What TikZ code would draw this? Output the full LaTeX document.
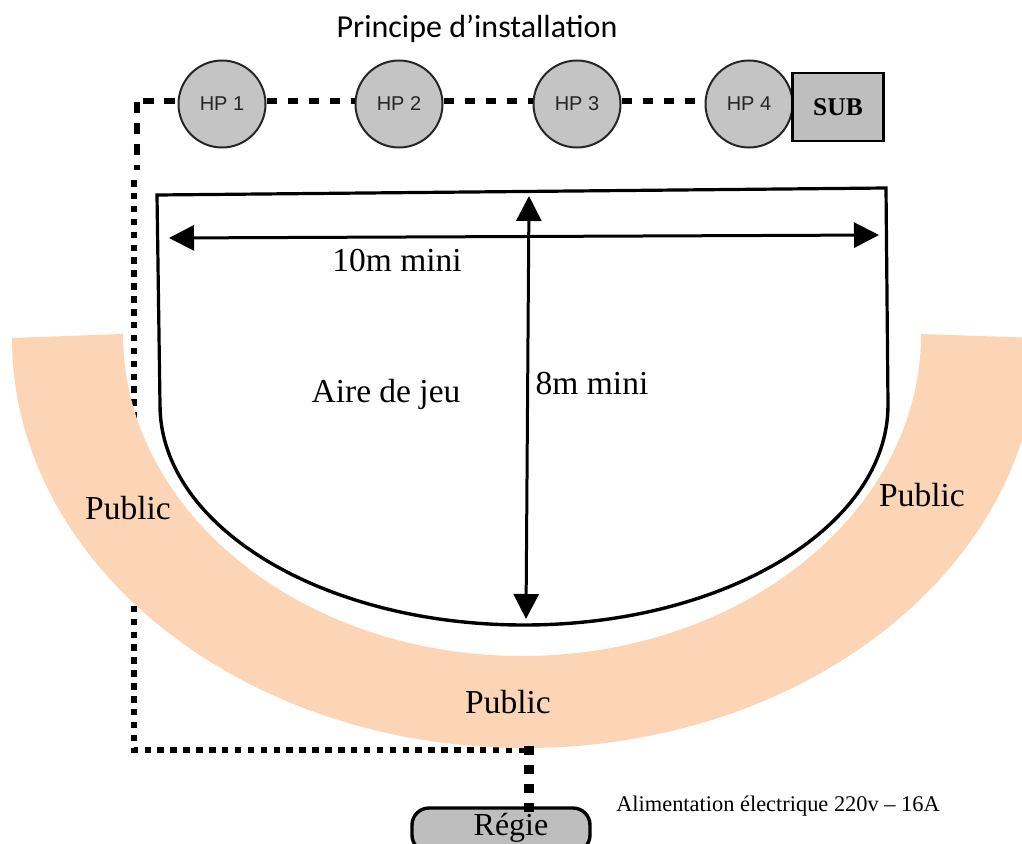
\documentclass[tikz,border=0pt]{standalone}
\usepackage{fontspec}
\setmainfont{Liberation Serif}
\newfontfamily\hpfont{Liberation Sans}
\newfontfamily\calfont{Carlito}
\usetikzlibrary{arrows.meta}
\definecolor{band}{HTML}{FBD5B5}
\definecolor{hpfill}{HTML}{C4C4C4}
\definecolor{boxfill}{HTML}{BEBEBE}
\tikzset{
  x=1pt,y=-1pt,
  hp/.style={circle,draw=black!85,fill=hpfill,line width=2pt,minimum size=87pt,inner sep=0pt,font=\hpfont\fontsize{20}{20}\selectfont,text=black!85},
  dashline/.style={line width=5.5pt,dash pattern=on 10.5pt off 10.5pt},
  dotline/.style={line width=6pt,dash pattern=on 6.5pt off 6.4pt},
  regieline/.style={line width=9.5pt,dash pattern=on 9pt off 10pt},
  stage/.style={line width=3.2pt,draw=black},
  dimline/.style={line width=3pt,{Triangle[length=25pt,width=25pt]}-{Triangle[length=25pt,width=25pt]}},
  lab/.style={inner sep=0pt,font=\fontsize{33.5}{33.5}\selectfont,text=black},
}
\begin{document}
\begin{tikzpicture}
\useasboundingbox (0,0) rectangle (1022,843);
\clip (0,0) rectangle (1022,843);
% cables (underneath the band)
\coordinate (c0) at (143,101);
\coordinate (c1) at (137,102);
\coordinate (c1b) at (137,170);
\coordinate (c2) at (134,180);
\coordinate (c3) at (134,750);
\coordinate (c4) at (529,750);
\coordinate (c5) at (529,746);
\draw[dotline] (c2) -- (c3) -- (c4);
% audience band
\fill[band] (12,338) arc[start angle=180,end angle=0,x radius=513,y radius=410]
  -- (921,334) arc[start angle=0,end angle=180,x radius=399,y radius=322] -- cycle;
% speakers
\node[hp] (hp1) at (222,104) {HP 1};
\node[hp] (hp2) at (399,104) {HP 2};
\node[hp] (hp3) at (577,104) {HP 3};
\node[hp] (hp4) at (749,104) {HP 4};
\node[draw=black,fill=boxfill,line width=2.4pt,minimum width=91pt,minimum height=68pt,inner sep=0pt,font=\bfseries\fontsize{25.5}{25.5}\selectfont] (sub) at (838,107) {SUB};
\draw[dashline] (c0) -- (c0 -| hp1.west);
\draw[dashline] (c1) -- (c1b);
\draw[dashline] (hp1.east |- c0) -- (hp2.west |- c0);
\draw[dashline] (hp2.east |- c0) -- (hp3.west |- c0);
\draw[dashline] (hp3.east |- c0) -- (hp4.west |- c0);
% stage
\coordinate (s1) at (160,405);
\coordinate (s2) at (888,405);
\draw[stage,line join=miter] (s1) -- (157,195) -- (886,188) -- (s2);
\draw[line width=3.4pt] (s1) arc[start angle=180,end angle=0,x radius=364,y radius=220];
% dimensions
\coordinate (d1) at (169,238);
\coordinate (d2) at (879,235);
\coordinate (d3) at (529,196);
\coordinate (d4) at (526,619);
\draw[dimline] (d1) -- (d2);
\draw[dimline] (d3) -- (d4);
% labels
\node[font=\calfont\fontsize{32}{32}\selectfont,inner sep=0pt] (title) at (477,29) {Principe d’installation};
\node[lab] (l10) at (397,261) {10m mini};
\node[lab] (l8) at (592,384) {8m mini};
\node[lab] (aire) at (386,394) {Aire de jeu};
\node[lab] (p1) at (128,508) {Public};
\node[lab] (p2) at (922,495) {Public};
\node[lab] (p3) at (508,702) {Public};
\node[font=\fontsize{22.4}{22.4}\selectfont,inner sep=0pt] (alim) at (778,806) {Alimentation électrique 220v – 16A};
% control desk
\node[draw=black,fill=boxfill,line width=3.4pt,rounded corners=17pt,minimum width=178pt,minimum height=44pt,inner sep=0pt] (regie) at (501,830) {};
\draw[regieline] (c5) -- (529,813);
\node[lab,font=\fontsize{32}{32}\selectfont] (regietext) at (511,828) {Régie};
\end{tikzpicture}
\end{document}
